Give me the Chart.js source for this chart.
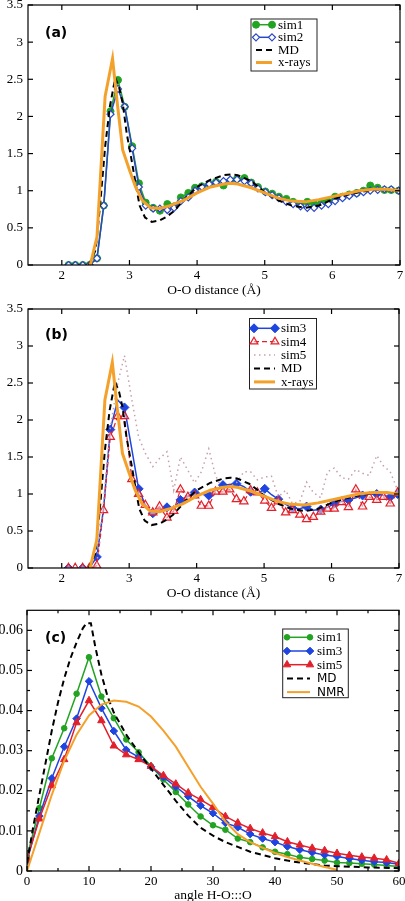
<!DOCTYPE html>
<html>
<head>
<meta charset="utf-8">
<script src="https://cdn.jsdelivr.net/npm/chart.js@4.4.1/dist/chart.umd.min.js"></script>
<style>
  html, body { margin: 0; padding: 0; background: #fff; }
  body { width: 405px; height: 901px; position: relative; overflow: hidden; }
  canvas { position: absolute; left: 0; }
</style>
</head>
<body>
<canvas id="chart-a" width="405" height="300" style="top:0px"></canvas>
<canvas id="chart-b" width="405" height="300" style="top:303px"></canvas>
<canvas id="chart-c" width="405" height="296" style="top:605px"></canvas>
<script>
// ---- panels (a) and (b): g(r), O-O distance in Angstrom
const oo_r = [2.10, 2.20, 2.31, 2.41, 2.52, 2.62, 2.72, 2.83, 2.93, 3.04,
  3.14, 3.24, 3.35, 3.45, 3.56, 3.66, 3.76, 3.87, 3.97, 4.07,
  4.18, 4.28, 4.39, 4.49, 4.59, 4.70, 4.80, 4.90, 5.01, 5.11,
  5.21, 5.32, 5.42, 5.53, 5.63, 5.73, 5.84, 5.94, 6.04, 6.15,
  6.25, 6.36, 6.46, 6.56, 6.67, 6.77, 6.87, 6.98]
const sim1_a = [0, 0, 0, 0, 0.09, 0.80, 2.07, 2.49, 2.13, 1.60,
  1.10, 0.84, 0.77, 0.73, 0.82, 0.79, 0.91, 0.97, 1.04, 1.06,
  1.09, 1.12, 1.07, 1.13, 1.16, 1.17, 1.11, 1.05, 0.99, 0.96,
  0.92, 0.89, 0.85, 0.82, 0.85, 0.82, 0.85, 0.85, 0.92, 0.92,
  0.95, 0.97, 1.00, 1.07, 1.04, 1.01, 1.01, 1.00]
const sim2_a = [0, 0, 0, 0, 0.09, 0.80, 2.03, 2.37, 2.13, 1.57,
  1.05, 0.80, 0.76, 0.76, 0.74, 0.77, 0.86, 0.91, 1.00, 1.05,
  1.09, 1.11, 1.13, 1.15, 1.15, 1.13, 1.10, 1.03, 0.98, 0.94,
  0.90, 0.85, 0.82, 0.79, 0.77, 0.77, 0.80, 0.82, 0.86, 0.90,
  0.93, 0.96, 0.98, 1.00, 1.01, 1.02, 1.02, 1.00]
const sim3_b = [0, 0, 0, 0, 0.15, 0.80, 1.87, 2.27, 2.17, 1.60,
  1.07, 0.85, 0.74, 0.77, 0.82, 0.80, 0.92, 0.97, 1.02, 1.00,
  0.98, 1.05, 1.12, 1.13, 1.14, 1.10, 1.03, 1.00, 1.07, 0.99,
  0.93, 0.86, 0.81, 0.80, 0.83, 0.78, 0.79, 0.82, 0.87, 0.90,
  0.92, 0.95, 0.98, 1.00, 1.00, 0.98, 0.96, 1.00]
const sim4_b = [0, 0, 0, 0, 0.03, 0.78, 1.77, 2.05, 2.05, 1.20,
  1.00, 0.85, 0.75, 0.83, 0.68, 0.77, 1.06, 0.96, 0.98, 0.84,
  0.84, 1.03, 1.03, 1.06, 0.93, 0.90, 1.05, 1.02, 0.91, 0.81,
  0.90, 0.75, 0.78, 0.72, 0.66, 0.69, 0.76, 0.80, 0.80, 0.89,
  0.82, 1.06, 0.83, 0.96, 0.92, 0.96, 0.87, 1.02]
const sim5_b = [0, 0, 0, 0, 0.05, 0.90, 1.90, 2.50, 2.87, 2.27,
  1.77, 1.55, 1.37, 1.48, 1.57, 1.05, 1.50, 1.32, 1.15, 1.30,
  1.61, 1.25, 1.05, 1.10, 1.15, 1.30, 1.30, 1.19, 1.23, 1.24,
  0.96, 1.05, 0.87, 0.90, 1.16, 1.02, 0.95, 1.30, 1.35, 1.22,
  1.20, 1.33, 1.28, 1.25, 1.52, 1.38, 1.30, 1.05]
const md_r = [2.40, 2.50, 2.57, 2.64, 2.71, 2.79, 2.85, 2.90, 2.96, 3.04,
  3.10, 3.15, 3.23, 3.33, 3.45, 3.55, 3.65, 3.75, 3.85, 4.00,
  4.20, 4.40, 4.50, 4.60, 4.80, 5.00, 5.20, 5.40, 5.60, 5.80,
  6.00, 6.20, 6.40, 6.60, 6.80, 7.00]
const md_g = [0, 0.20, 0.85, 1.59, 2.13, 2.52, 2.38, 2.18, 1.77, 1.37,
  1.05, 0.80, 0.64, 0.58, 0.60, 0.65, 0.72, 0.82, 0.92, 1.05,
  1.15, 1.21, 1.22, 1.21, 1.13, 0.98, 0.87, 0.80, 0.77, 0.80,
  0.88, 0.94, 0.98, 1.01, 1.02, 1.00]
const xray_r = [2.42, 2.52, 2.64, 2.75, 2.82, 2.90, 3.00, 3.09, 3.19, 3.31,
  3.45, 3.60, 3.80, 4.00, 4.20, 4.40, 4.50, 4.60, 4.80, 5.00,
  5.20, 5.40, 5.60, 5.80, 6.00, 6.20, 6.40, 6.60, 6.80, 7.00]
const xray_g = [0, 0.38, 2.27, 2.78, 2.18, 1.55, 1.28, 1.05, 0.87, 0.77,
  0.76, 0.80, 0.87, 0.97, 1.05, 1.09, 1.10, 1.09, 1.04, 0.97,
  0.90, 0.86, 0.85, 0.88, 0.92, 0.96, 1.00, 1.02, 1.02, 1.00]
const r_ticks = [2, 3, 4, 5, 6, 7]
const r_tick_labels = ['2', '3', '4', '5', '6', '7']
const g_ticks = [0, 0.5, 1, 1.5, 2, 2.5, 3, 3.5]
const g_tick_labels = ['0', '0.5', '1', '1.5', '2', '2.5', '3', '3.5']

// ---- panel (c): angle H-O:::O distribution
const angle = [0, 2, 4, 6, 8, 10, 12, 14, 16, 18, 20, 22, 24, 26, 28, 30,
  32, 34, 36, 38, 40, 42, 44, 46, 48, 50, 52, 54, 56, 58, 60]
const sim1_c = [0.0035, 0.0157, 0.0281, 0.0356, 0.0442, 0.0533,
  0.0435, 0.0381, 0.0328, 0.0296, 0.0261,
  0.0228, 0.0197, 0.0166, 0.0136, 0.0114,
  0.0103, 0.0081, 0.0072, 0.0059, 0.0048,
  0.0042, 0.0034, 0.0030, 0.0026, 0.0021,
  0.0020, 0.0018, 0.0016, 0.0014, 0.0011]
const sim3_c = [0.0025, 0.0137, 0.0231, 0.0310, 0.0380, 0.0473,
  0.0406, 0.0349, 0.0302, 0.0284, 0.0260,
  0.0234, 0.0210, 0.0186, 0.0163, 0.0144,
  0.0120, 0.0109, 0.0092, 0.0081, 0.0072,
  0.0061, 0.0053, 0.0046, 0.0040, 0.0036,
  0.0031, 0.0027, 0.0023, 0.0021, 0.0017]
const sim5_c = [0.0030, 0.0130, 0.0213, 0.0278, 0.0370, 0.0425,
  0.0375, 0.0312, 0.0290, 0.0278, 0.0261,
  0.0238, 0.0217, 0.0195, 0.0178, 0.0159,
  0.0136, 0.0120, 0.0106, 0.0095, 0.0086,
  0.0073, 0.0065, 0.0057, 0.0051, 0.0044,
  0.0039, 0.0035, 0.0032, 0.0028, 0.0019]
const mdc_angle = [0, 1, 2, 3, 4, 5, 6, 7, 8, 9, 9.6, 10.3, 11, 12, 13, 14,
  16, 18, 20, 22, 24, 26, 28, 30, 32, 34, 36, 38, 40, 42, 44, 46, 48, 50, 55, 60]
const mdc_p = [0.002, 0.011, 0.019, 0.027, 0.035, 0.042, 0.048, 0.053, 0.057, 0.0605,
  0.0618, 0.0618, 0.056, 0.049, 0.0435, 0.0395,
  0.034, 0.0296, 0.0255, 0.0215, 0.0175, 0.0138, 0.0108, 0.0088,
  0.0072, 0.006, 0.0048, 0.004, 0.0032, 0.0026, 0.0021, 0.0017, 0.0014, 0.0012,
  0.0009, 0.0007]
const nmr_angle = [0, 2, 4, 6, 8, 10, 12, 14, 16, 18, 20, 22, 24, 26, 28, 30,
  32, 34, 36, 38, 40, 42, 44, 46, 48, 50]
const nmr_p = [0, 0.0095, 0.019, 0.0275, 0.034, 0.0388,
  0.0415, 0.0425, 0.0422, 0.041, 0.0385,
  0.035, 0.031, 0.026, 0.021, 0.0168,
  0.0123, 0.0092, 0.0072, 0.0058, 0.0045,
  0.0035, 0.0026, 0.0018, 0.001, 0.0003]
const a_ticks = [0, 10, 20, 30, 40, 50, 60]
const a_tick_labels = ['0', '10', '20', '30', '40', '50', '60']
const a_minor = [5, 15, 25, 35, 45, 55]
const p_ticks = [0, 0.01, 0.02, 0.03, 0.04, 0.05, 0.06]
const p_tick_labels = ['0', '0.01', '0.02', '0.03', '0.04', '0.05', '0.06']
const p_minor = [0.005, 0.015, 0.025, 0.035, 0.045, 0.055]

const GREEN = '#22a322'
const BLUE_A = '#2a47c4'
const BLUE = '#1f45e0'
const RED = '#e2202b'
const ORANGE = '#f4a12c'
const PINK = '#c9a0a8'
const SERIF = '"Liberation Serif", "DejaVu Serif", serif'
const SANS = '"DejaVu Sans", sans-serif'

function pts(xs, ys) {
  return xs.map((x, i) => ({ x: x, y: ys[i] }))
}

function drawMarker(ctx, style, x, y, r, fill, stroke, lw) {
  ctx.beginPath()
  if (style === 'circle') {
    ctx.arc(x, y, r, 0, Math.PI * 2)
  } else if (style === 'rectRot') {
    ctx.moveTo(x, y - r); ctx.lineTo(x + r, y); ctx.lineTo(x, y + r); ctx.lineTo(x - r, y)
    ctx.closePath()
  } else if (style === 'triangle') {
    ctx.moveTo(x, y - r)
    ctx.lineTo(x + r * Math.sin(2 * Math.PI / 3), y - r * Math.cos(2 * Math.PI / 3))
    ctx.lineTo(x + r * Math.sin(4 * Math.PI / 3), y - r * Math.cos(4 * Math.PI / 3))
    ctx.closePath()
  }
  ctx.setLineDash([])
  ctx.fillStyle = fill
  ctx.fill()
  ctx.strokeStyle = stroke
  ctx.lineWidth = lw
  ctx.stroke()
}

// frame, inward ticks on all four sides, axis title and panel tag
const framePlugin = {
  id: 'frame',
  afterDraw(chart, args, o) {
    const { ctx, chartArea: a, scales } = chart
    ctx.save()
    ctx.strokeStyle = '#000'
    ctx.lineWidth = 1.2
    ctx.setLineDash([])
    const line = (x0, y0, x1, y1) => { ctx.beginPath(); ctx.moveTo(x0, y0); ctx.lineTo(x1, y1); ctx.stroke() }
    const tickX = (vals, len) => vals.forEach(v => {
      const p = scales.x.getPixelForValue(v)
      line(p, a.bottom, p, a.bottom - len)
      line(p, a.top, p, a.top + len)
    })
    const tickY = (vals, len) => vals.forEach(v => {
      const p = scales.y.getPixelForValue(v)
      line(a.left, p, a.left + len, p)
      line(a.right, p, a.right - len, p)
    })
    tickX(scales.x.ticks.map(t => t.value), 5)
    tickY(scales.y.ticks.map(t => t.value), 5)
    tickX(o.xMinor || [], 3)
    tickY(o.yMinor || [], 3)
    ctx.strokeRect(a.left, a.top, a.right - a.left, a.bottom - a.top)

    ctx.fillStyle = '#000'
    ctx.textAlign = 'center'
    ctx.textBaseline = 'middle'
    ctx.font = '13.5px ' + SERIF
    ctx.fillText(o.title, (a.left + a.right) / 2, a.bottom + o.titleGap)

    ctx.textAlign = 'left'
    ctx.font = 'bold 14px ' + SANS
    ctx.fillText(o.tag, o.tagX, o.tagY)
    ctx.restore()
  }
}

// boxed legend with line samples and a marker at each end
const boxLegendPlugin = {
  id: 'boxLegend',
  afterDraw(chart, args, o) {
    const ctx = chart.ctx
    ctx.save()
    ctx.fillStyle = '#fff'
    ctx.fillRect(o.left, o.top, o.width, o.height)
    ctx.strokeStyle = '#222'
    ctx.lineWidth = 1
    ctx.strokeRect(o.left, o.top, o.width, o.height)
    chart.data.datasets.forEach((ds, i) => {
      const y = o.firstRow + i * o.rowH
      ctx.beginPath()
      ctx.strokeStyle = ds.borderColor
      ctx.lineWidth = ds.borderWidth
      ctx.setLineDash(ds.borderDash || [])
      ctx.moveTo(o.x0, y)
      ctx.lineTo(o.x1, y)
      ctx.stroke()
      if (ds.legendRadius) {
        [o.x0, o.x1].forEach(x => drawMarker(ctx, ds.pointStyle, x, y, ds.legendRadius,
          ds.pointBackgroundColor, ds.pointBorderColor, ds.pointBorderWidth))
      }
      ctx.fillStyle = '#000'
      ctx.textAlign = 'left'
      ctx.textBaseline = 'middle'
      ctx.font = ds.legendFont || ('13px ' + SERIF)
      ctx.fillText(ds.label, o.textX, y + 0.5)
    })
    ctx.restore()
  }
}

function axis(min, max, ticks, labels, size, horizontal, fontSize, pad) {
  return {
    type: 'linear',
    min: min,
    max: max,
    grid: { display: false, drawTicks: false },
    border: { display: false },
    ticks: {
      color: '#000',
      font: { family: SERIF, size: fontSize || 13 },
      padding: pad,
      autoSkip: false,
      maxRotation: 0,
      callback: (v, i) => labels[i]
    },
    afterBuildTicks: s => { s.ticks = ticks.map(v => ({ value: v })) },
    afterFit: s => {
      if (horizontal) s.height = size
      else s.width = size
      s.paddingLeft = 0; s.paddingRight = 0; s.paddingTop = 0; s.paddingBottom = 0
    }
  }
}

function makeChart(id, datasets, cfg) {
  datasets.forEach((ds, i) => {
    ds.showLine = true
    ds.order = -i
    if (ds.pointRadius === undefined) ds.pointRadius = 0
    ds.pointHoverRadius = 0
  })
  return new Chart(document.getElementById(id), {
    type: 'scatter',
    data: { datasets: datasets },
    options: {
      responsive: false,
      animation: false,
      events: [],
      layout: { padding: { top: 5, right: cfg.padRight, left: 0, bottom: 0 } },
      plugins: {
        legend: { display: false },
        tooltip: { enabled: false },
        frame: cfg.frame,
        boxLegend: cfg.legend
      },
      scales: {
        x: axis(cfg.x[0], cfg.x[1], cfg.x[2], cfg.x[3], cfg.xh, true, 13, 3),
        y: axis(cfg.y[0], cfg.y[1], cfg.y[2], cfg.y[3], cfg.yw, false, cfg.yFont, cfg.yPad)
      }
    },
    plugins: [framePlugin, boxLegendPlugin]
  })
}

const mdLine = () => ({ label: 'MD', data: pts(md_r, md_g), borderColor: '#000', borderWidth: 2, borderDash: [6, 4] })
const xrayLine = () => ({ label: 'x-rays', data: pts(xray_r, xray_g), borderColor: ORANGE, borderWidth: 3 })

makeChart('chart-a', [
  { label: 'sim1', data: pts(oo_r, sim1_a), borderColor: GREEN, borderWidth: 1.5,
    pointStyle: 'circle', pointRadius: 3.5, legendRadius: 3.5,
    pointBackgroundColor: GREEN, pointBorderColor: GREEN, pointBorderWidth: 1 },
  { label: 'sim2', data: pts(oo_r, sim2_a), borderColor: BLUE_A, borderWidth: 1.5,
    pointStyle: 'rectRot', pointRadius: 3.5, legendRadius: 3.5,
    pointBackgroundColor: '#fff', pointBorderColor: BLUE_A, pointBorderWidth: 1.2 },
  mdLine(),
  xrayLine()
], {
  x: [1.5, 7, r_ticks, r_tick_labels], y: [0, 3.5, g_ticks, g_tick_labels],
  xh: 35, yw: 28, padRight: 5, yFont: 13, yPad: 5,
  frame: { title: 'O-O distance (Å)', titleGap: 25, tag: '(a)', tagX: 45, tagY: 33 },
  legend: { left: 251, top: 19, width: 66, height: 52, firstRow: 24.7, rowH: 12.6, x0: 256, x1: 272, textX: 278 }
})

makeChart('chart-b', [
  { label: 'sim3', data: pts(oo_r, sim3_b), borderColor: BLUE, borderWidth: 1.5,
    pointStyle: 'rectRot', legendRadius: 4.5,
    pointRadius: c => (c.dataIndex % 2 === 0 || c.dataIndex === oo_r.length - 1) ? 4.5 : 0,
    pointBackgroundColor: BLUE, pointBorderColor: BLUE, pointBorderWidth: 1 },
  { label: 'sim4', data: pts(oo_r, sim4_b), borderColor: RED, borderWidth: 1.2, borderDash: [5, 3],
    pointStyle: 'triangle', pointRadius: 4.8, legendRadius: 4.5,
    pointBackgroundColor: 'rgba(255,235,235,0.5)', pointBorderColor: RED, pointBorderWidth: 1.2 },
  { label: 'sim5', data: pts(oo_r, sim5_b), borderColor: PINK, borderWidth: 1.5, borderDash: [1.5, 3.5] },
  mdLine(),
  xrayLine()
], {
  x: [1.5, 7, r_ticks, r_tick_labels], y: [0, 3.5, g_ticks, g_tick_labels],
  xh: 35, yw: 28, padRight: 5, yFont: 13, yPad: 5,
  frame: { title: 'O-O distance (Å)', titleGap: 25, tag: '(b)', tagX: 45, tagY: 32 },
  legend: { left: 249.5, top: 15.5, width: 67, height: 70.5, firstRow: 25.3, rowH: 13.4, x0: 254, x1: 275, textX: 281 }
})

makeChart('chart-c', [
  { label: 'sim1', data: pts(angle, sim1_c), borderColor: GREEN, borderWidth: 1.5,
    pointStyle: 'circle', pointRadius: 2.8, legendRadius: 2.8,
    pointBackgroundColor: GREEN, pointBorderColor: GREEN, pointBorderWidth: 1 },
  { label: 'sim3', data: pts(angle, sim3_c), borderColor: BLUE, borderWidth: 1.5,
    pointStyle: 'rectRot', pointRadius: 3.8, legendRadius: 3.8,
    pointBackgroundColor: BLUE, pointBorderColor: BLUE, pointBorderWidth: 1 },
  { label: 'sim5', data: pts(angle, sim5_c), borderColor: RED, borderWidth: 1.5,
    pointStyle: 'triangle', pointRadius: 4.3, legendRadius: 4.3,
    pointBackgroundColor: RED, pointBorderColor: RED, pointBorderWidth: 1 },
  { label: 'MD', data: pts(mdc_angle, mdc_p), borderColor: '#000', borderWidth: 2, borderDash: [6, 4],
    legendFont: '12px ' + SANS },
  { label: 'NMR', data: pts(nmr_angle, nmr_p), borderColor: ORANGE, borderWidth: 2,
    legendFont: '12px ' + SANS }
], {
  x: [0, 60, a_ticks, a_tick_labels], y: [0, 0.065, p_ticks, p_tick_labels],
  xh: 30, yw: 27, padRight: 6, yFont: 14, yPad: 4,
  frame: { title: 'angle H-O:::O', titleGap: 24, tag: '(c)', tagX: 45, tagY: 33.3,
    xMinor: a_minor, yMinor: p_minor },
  legend: { left: 282.7, top: 24, width: 65.6, height: 68.7, firstRow: 32.3, rowH: 13.7, x0: 287, x1: 310, textX: 317 }
})
</script>
</body>
</html>
